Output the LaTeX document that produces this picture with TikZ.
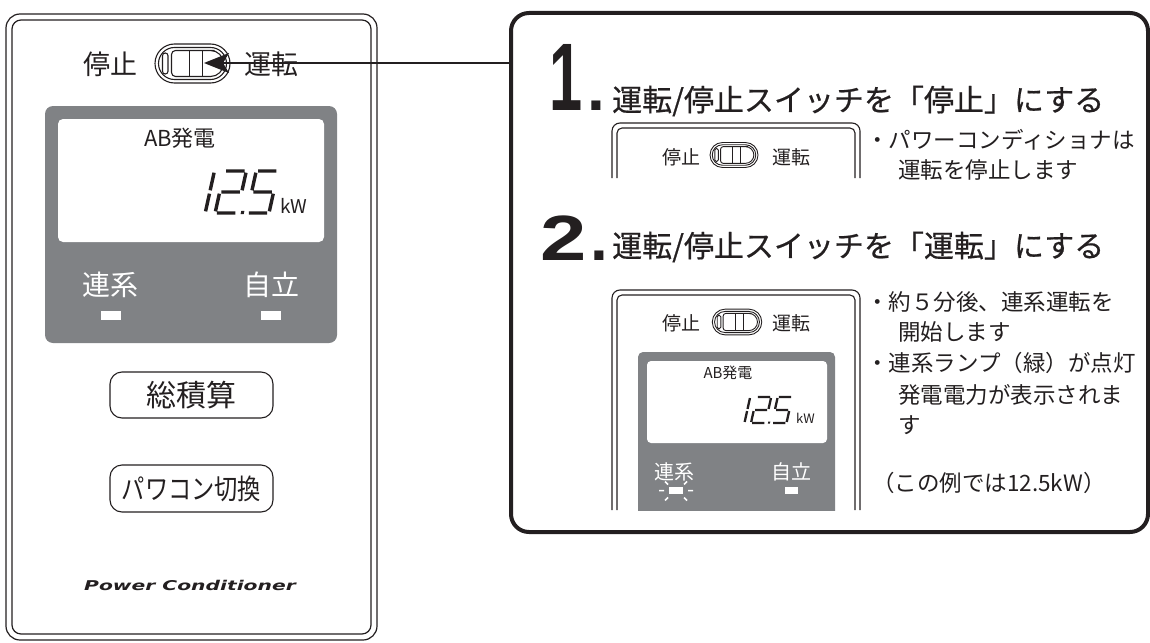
\documentclass[tikz,border=0pt]{standalone}
\usepackage{fontspec}
\setmainfont{Noto Sans CJK JP}
\newfontfamily\jpm{Noto Sans CJK JP}[FakeBold=0.6]
\newfontfamily\numfont{Liberation Sans}
\newfontfamily\logofont{DejaVu Sans}
\usetikzlibrary{arrows.meta}
\definecolor{ink}{RGB}{35,31,32}
\definecolor{lcdgray}{RGB}{128,130,133}
\newcommand\fs[1]{\fontsize{#1}{#1}\selectfont}
% slide switch, #1 centre, #2 scale, #3 line width
\newcommand\swpic[3]{%
\begin{scope}[shift={#1}, scale=#2, line width=#3]
 \draw[rounded corners=19.5*#2] (-37.5,-19.5) rectangle (37.5,19.5);
 \draw[rounded corners=16*#2] (-34,-16) rectangle (34,16);
 \draw[rounded corners=2.7*#2] (-30,-10.5) rectangle (-24.5,10.5);
 \draw (18,13) [rounded corners=4*#2] -- (-21,13) -- (-21,-13) -- (18,-13) [rounded corners=13*#2] -- (31,-13) -- (31,13) -- (18,13);
 \draw (-3,-13) -- (-3,13) (10,-13) -- (10,13);
\end{scope}}
% seven segment "12.5", #1 bottom-left, #2 x scale, #3 y scale, #4 line width
\newcommand\lcdnum[4]{%
\begin{scope}[shift={#1}, xslant=0.22, xscale=#2, yscale=#3, line width=#4, line cap=butt]
 \draw (0.1,-1.92)--(0.1,-1.08) (0.1,-0.92)--(0.1,-0.08);
 \draw (0.63,-2)--(1.47,-2) (1.55,-1.92)--(1.55,-1.08) (0.63,-1)--(1.47,-1) (0.55,-0.92)--(0.55,-0.08) (0.63,0)--(1.47,0);
 \fill (1.72,-0.1) rectangle (1.86,0.05);
 \draw (2.08,-2)--(2.92,-2) (2.0,-1.92)--(2.0,-1.08) (2.08,-1)--(2.92,-1) (3.0,-0.92)--(3.0,-0.08) (2.08,0)--(2.92,0);
\end{scope}}
\begin{document}
\begin{tikzpicture}[x=1pt,y=-1pt,color=ink,
  txt/.style={inner sep=0pt},
  btn/.style={line width=1.1pt, rounded corners=12pt},
  panelline/.style={line width=1.2pt},
  subline/.style={line width=1.1pt},
  desc/.style={inner sep=0pt, anchor=west, font=\fs{22.5}}]
\useasboundingbox (0,0) rectangle (1150,642);
% ---------------- left panel ----------------
\draw[panelline, rounded corners=14pt] (6,14) rectangle (377,640);
\draw[panelline, rounded corners=9pt] (12,20) rectangle (371,634);
\node[txt] (mstop) at (110,64) {\fs{27}停止};
\node[txt] (mrun) at (271,64) {\fs{27}運転};
\swpic{(192.5,63.5)}{1}{1.1pt}
\coordinate (swtip) at (204,63);
% display
\fill[lcdgray, rounded corners=8pt] (45,106) rectangle (337,343);
\fill[white, rounded corners=5pt] (58,119) rectangle (324,242);
\node[txt] (mab) at (180,138) {\fs{22}AB発電};
\lcdnum{(203,213)}{22}{21}{3.4pt}
\node[txt, anchor=base west] (mkw) at (280,213) {\fs{19}kW};
\node[txt, text=white] (mren) at (110,285) {\fs{28}連系};
\node[txt, text=white] (mjir) at (271,285) {\fs{28}自立};
\fill[white] (101,311) rectangle (121,320);
\fill[white] (261,311) rectangle (281,320);
% buttons
\draw[btn] (110,372) rectangle (273,418);
\node[txt] (b1) at (191.5,395) {\fs{30}総積算};
\draw[btn] (110,465) rectangle (273,512);
\node[txt] (b2) at (191.5,488.5) {\scalebox{0.83}[1]{\fs{28}パワコン切換}};
\node[txt] (logo) at (190,585) {\scalebox{1.5}[1]{\logofont\bfseries\itshape\fs{13.5}Power Conditioner}};
% ---------------- callout ----------------
\draw[line width=4pt, rounded corners=18pt] (511,13) rectangle (1148,532);
\coordinate (arrS) at (511,63);
\draw[line width=1.4pt, -{Stealth[length=25pt,width=20pt,inset=6pt]}] (arrS) -- (swtip);
% step 1
\node[txt, anchor=base east] (n1) at (605,110) {\numfont\bfseries\scalebox{0.62}[1]{\fs{96}1}\kern4pt\fs{64}.};
\node[txt, anchor=base west] (t1) at (612,111) {\jpm\fs{30}運転/停止スイッチを「停止」にする};
\draw[subline, rounded corners=8pt] (612,178) -- (612,123) -- (860,123) -- (860,178);
\draw[subline, rounded corners=5pt] (617,178) -- (617,128) -- (855,128) -- (855,178);
\node[txt] (s1stop) at (681,157) {\fs{19}停止};
\node[txt] (s1run) at (791,157) {\fs{19}運転};
\swpic{(734,155)}{0.64}{0.9pt}
\node[desc] (d11) at (866,140) {・パワーコンディショナは};
\node[desc] (d12) at (898,170) {運転を停止します};
% step 2
\node[txt, anchor=base east] (n2) at (608,260) {\numfont\bfseries\scalebox{1.3}[1]{\fs{64}2}\kern3pt\fs{64}.};
\node[txt, anchor=base west] (t2) at (612,257) {\jpm\fs{30}運転/停止スイッチを「運転」にする};
\draw[subline, rounded corners=8pt] (612,510) -- (612,290) -- (860,290) -- (860,510);
\draw[subline, rounded corners=5pt] (617,510) -- (617,295) -- (855,295) -- (855,510);
\node[txt] (s2stop) at (681,323) {\fs{19}停止};
\node[txt] (s2run) at (791,323) {\fs{19}運転};
\swpic{(737,322)}{0.66}{0.9pt}
\begin{scope}
 \clip (600,300) rectangle (870,510);
 \fill[lcdgray, rounded corners=5pt] (638,352) rectangle (835,540);
\end{scope}
\fill[white, rounded corners=4pt] (647,361) rectangle (827,443);
\node[txt] (sab) at (728,373) {\fs{15}AB発電};
\lcdnum{(743,423)}{14.5}{13}{2.3pt}
\node[txt, anchor=base west] (skw) at (796,423) {\fs{13}kW};
\node[txt, text=white] (sren) at (674,472) {\fs{20}連系};
\node[txt, text=white] (sjir) at (791,472) {\fs{20}自立};
\fill[white] (669,487) rectangle (683,494);
\fill[white] (785,487) rectangle (798,494);
\begin{scope}[shift={(676,490.5)}, white, line width=1.5pt]
 \draw (-17,0) -- (-12,0) (12,0) -- (17,0)
       (-11,-9) -- (-8,-6) (11,-9) -- (8,-6)
       (-11,10) -- (-8,7) (11,10) -- (8,7);
\end{scope}
\node[desc] (d21) at (866,302) {・約５分後、連系運転を};
\node[desc] (d22) at (898,332) {開始します};
\node[desc] (d23) at (866,363) {・連系ランプ（緑）が点灯};
\node[desc] (d24) at (898,395) {発電電力が表示されま};
\node[desc] (d25) at (898,425) {す};
\node[desc] (d26) at (872,483) {（この例では12.5kW）};
\end{tikzpicture}
\end{document}
